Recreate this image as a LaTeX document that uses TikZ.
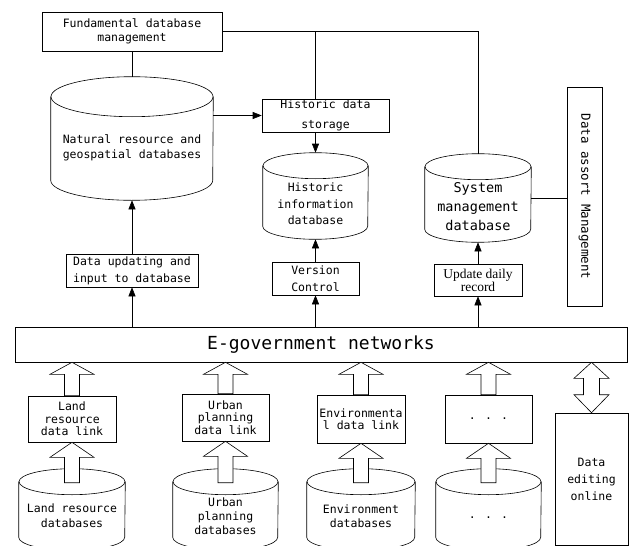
\documentclass[tikz,border=0pt]{standalone}
\usepackage{fontspec}
\setmainfont{DejaVu Sans Mono}
\newfontfamily\timesrm{Liberation Serif}
\usetikzlibrary{arrows.meta,calc}
\newcommand\fs[2]{\fontsize{#1}{#2}\selectfont}
% name, centre, width, height, cap radius, text drop, font, text
\newcommand\dbase[8]{%
  \node[minimum width=#3, minimum height=#4, inner sep=0pt] (#1) at (#2) {};
  \draw ([yshift=-#5pt]#1.north) ellipse [x radius=#3pt/2, y radius=#5pt];
  \draw ([yshift=-#5pt]#1.north west) -- ([yshift=#5pt]#1.south west)
    arc [start angle=180, end angle=360, x radius=#3pt/2, y radius=#5pt]
    -- ([yshift=-#5pt]#1.north east);
  \node[align=center, inner sep=0pt, font=#7] (#1-t) at ([yshift=-#6pt]#1.center) {#8};
}

\begin{document}
\begin{tikzpicture}[x=1pt,y=-1pt,line width=0.6pt,
    box/.style={draw, align=center, inner sep=0pt},
    arr/.style={-{Triangle[length=9pt,width=7pt]}},
    fatarrow/.style={draw, fill=white, to path={
        let \p1=(\tikztostart), \p2=(\tikztotarget) in
        (\x1-7.5pt,\y1) -- (\x1-7.5pt,\y2-#1) -- (\x1-22pt,\y2-#1) -- (\x1,\y2)
        -- (\x1+22pt,\y2-#1) -- (\x1+7.5pt,\y2-#1) -- (\x1+7.5pt,\y1) -- cycle}},
    dblarrow/.style={draw, fill=white, to path={
        let \p1=(\tikztostart), \p2=(\tikztotarget) in
        (\x1,\y1) -- (\x1-17.5pt,\y1+18pt) -- (\x1-8pt,\y1+18pt) -- (\x1-8pt,\y2-16pt)
        -- (\x1-17.5pt,\y2-16pt) -- (\x1,\y2) -- (\x1+17.5pt,\y2-16pt) -- (\x1+8pt,\y2-16pt)
        -- (\x1+8pt,\y1+18pt) -- (\x1+17.5pt,\y1+18pt) -- cycle}}]
\useasboundingbox (0,0) rectangle (629,546);

% upper part
\node[box, minimum width=180, minimum height=39, font=\fs{11.5}{13.5}] (fund) at (132,31.5) {Fundamental database\\management};
\dbase{ncyl}{132,138.5}{162}{123}{20}{9}{\fs{11.5}{15}}{Natural resource and\\geospatial databases}
\node[box, minimum width=127, minimum height=33, font=\fs{11.5}{20}] (stor) at (325.5,115.5) {Historic data\\storage};
\dbase{hinfo}{315.5,196}{105}{86}{13}{8}{\fs{11.5}{16.5}}{Historic\\information\\database}
\dbase{sys}{478,198}{106}{88}{13}{9}{\fs{13.5}{19}}{System\\management\\database}
\node[box, rotate=-90, minimum width=219, minimum height=35, font=\fs{12.5}{15}] (assort) at (584.5,196.5) {Data assort Management};

\node[box, minimum width=132, minimum height=33, font=\fs{11.5}{17}] (upd) at (132,270.5) {Data updating and\\input to database};
\node[box, minimum width=87, minimum height=33, font=\fs{11.5}{17}] (ver) at (315.5,278.5) {Version\\Control};
\node[box, minimum width=88, minimum height=32, font=\timesrm\fs{13.5}{13}] (rec) at (478,280) {Update daily\\record};

\node[box, minimum width=612, minimum height=35, font=\fs{18}{20}] (egov) at (321,344.5) {E-government networks};

\draw (fund.south) -- (ncyl.north);
\draw (fund.east) -| (sys.north);
\draw (fund.east -| hinfo.north) -- (hinfo.north |- stor.north);
\draw[arr] (stor.west -| ncyl.east) -- (stor.west);
\draw[arr] (hinfo.north |- stor.south) -- (hinfo.north);
\draw (sys.east) -- (assort.south |- sys.east);
\draw[arr] (upd.north) -- (ncyl.south);
\draw[arr] (ver.north) -- (hinfo.south);
\draw[arr] (rec.north) -- (sys.south);
\draw[arr] (upd.south |- egov.north) -- (upd.south);
\draw[arr] (ver.south |- egov.north) -- (ver.south);
\draw[arr] (rec.south |- egov.north) -- (rec.south);

% lower part
\node[box, minimum width=88, minimum height=46, font=\fs{11.5}{12.5}] (lbox) at (72,419) {Land\\resource\\data link};
\node[box, minimum width=87, minimum height=47, font=\fs{11.5}{12.5}] (ubox) at (225.5,417.5) {Urban\\planning\\data link};
\node[box, minimum width=88, minimum height=48, font=\fs{11.5}{12.5}] (ebox) at (361,419) {Environmenta\\l data link};
\node[box, minimum width=87, minimum height=48, font=\fs{11.5}{12.5}] (dbox) at (488.5,419) {. . .};
\node[box, minimum width=73, minimum height=132, font=\fs{11.5}{17}] (edit) at (591.5,479) {Data\\editing\\online};

\dbase{lcyl}{72,509.5}{106}{81}{13}{6}{\fs{11.5}{15}}{Land resource\\databases}
\dbase{ucyl}{225.5,509.5}{105}{81}{13}{6.5}{\fs{11.5}{14}}{Urban\\planning\\databases}
\dbase{ecyl}{361,509.5}{108}{81}{13}{7}{\fs{11.5}{14}}{Environment\\databases}
\dbase{dcyl}{488.5,509.5}{105}{81}{13}{8.5}{\fs{11.5}{14}}{. . .}

\foreach \b/\c in {lbox/lcyl, ubox/ucyl, ebox/ecyl, dbox/dcyl}{
  \draw[fatarrow=12pt] (\b.north) to (\b.north |- egov.south);
  \draw[fatarrow=15pt] ([yshift=-14pt]\c.north) to (\b.south);
}
\draw[dblarrow] (edit.north) to (edit.north |- egov.south);
\end{tikzpicture}
\end{document}
